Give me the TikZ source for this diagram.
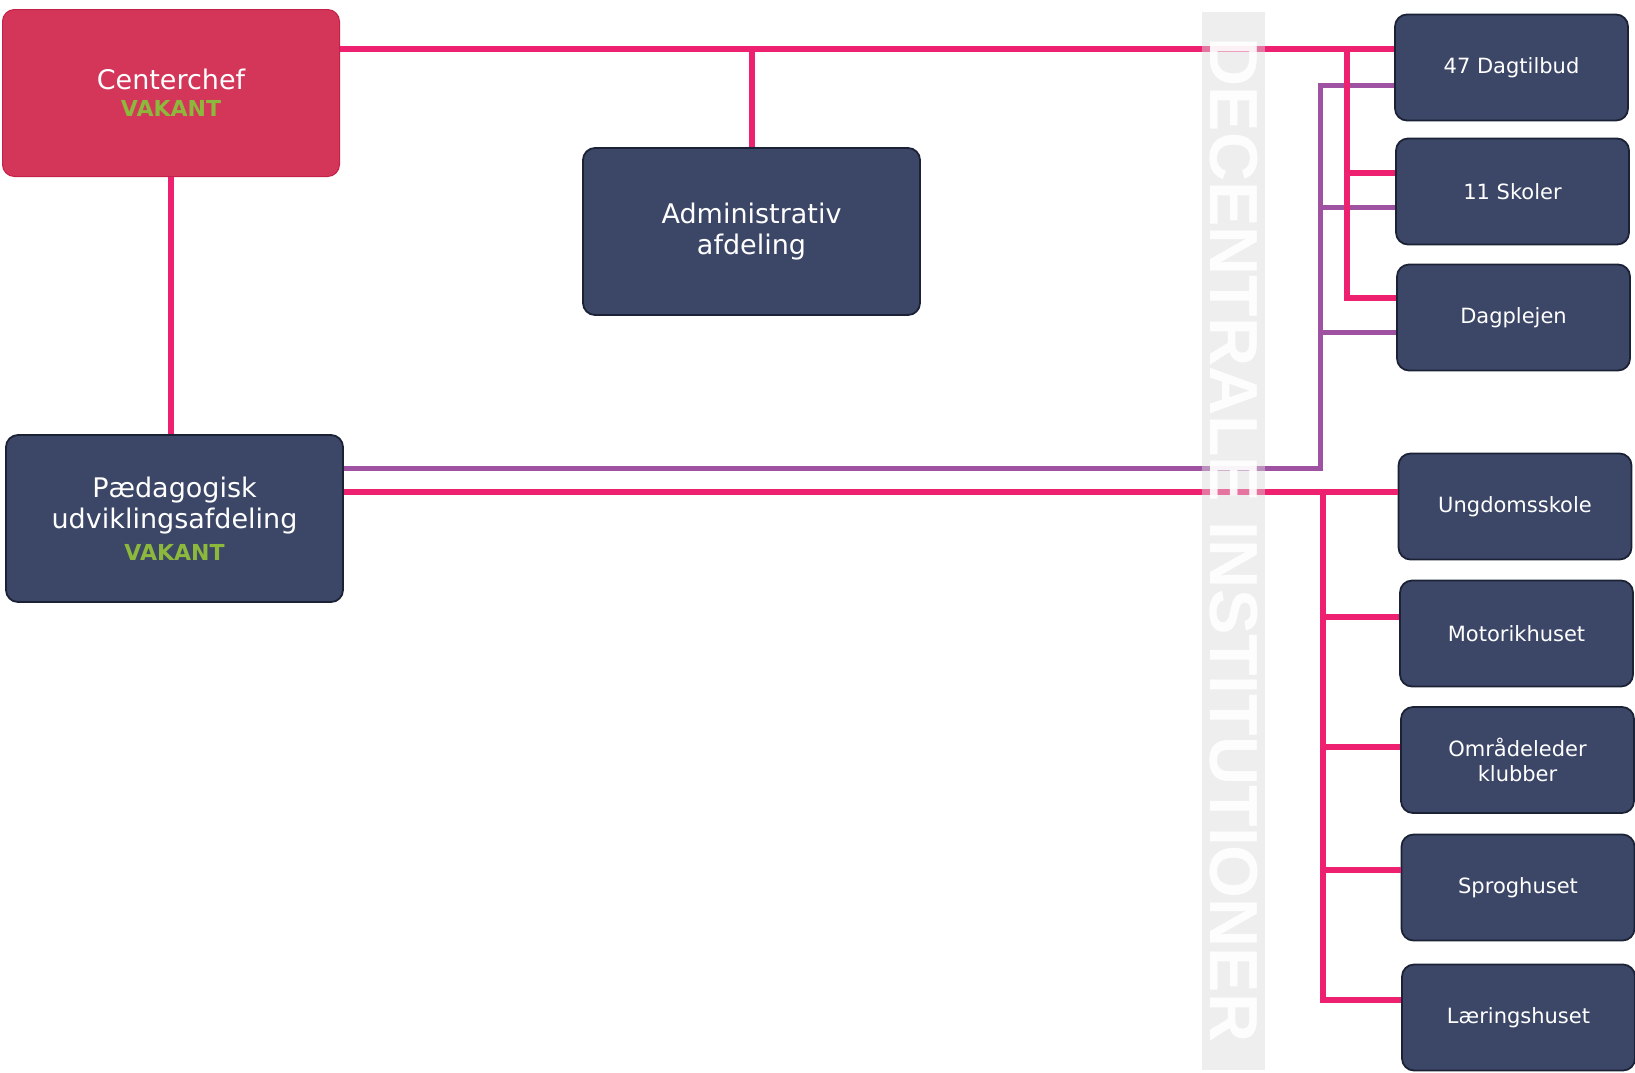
\documentclass[tikz,border=0pt]{standalone}
\usepackage{fontspec}
\setmainfont{DejaVu Sans}
\newfontfamily\wmfont{Liberation Sans}
\definecolor{navy}{RGB}{60,71,104}
\definecolor{navyedge}{RGB}{28,34,54}
\definecolor{chefred}{RGB}{212,54,90}
\definecolor{chefedge}{RGB}{196,34,72}
\definecolor{lpink}{RGB}{238,32,112}
\definecolor{lpurple}{RGB}{160,82,162}
\definecolor{vgreen}{RGB}{140,185,60}
\newcommand\vakant{{\color{vgreen}\fontsize{22}{26}\selectfont\bfseries VAKANT}}
\begin{document}
\begin{tikzpicture}[x=1pt,y=-1pt,
  box/.style={rounded corners=12pt, fill=navy, draw=navyedge, line width=1.8pt,
    text=white, align=center, inner sep=0pt},
  bigbox/.style={box, minimum width=337pt, minimum height=167pt,
    font=\fontsize{27}{31}\selectfont},
  smallbox/.style={box, minimum width=233pt, minimum height=106pt,
    font=\fontsize{21}{25}\selectfont},
  pinkline/.style={draw=lpink, line width=5.5pt},
  purpleline/.style={draw=lpurple, line width=5pt}]
\useasboundingbox (0,0) rectangle (1635,1072);
\fill[white] (0,0) rectangle (1635,1072);

% main boxes
\node[bigbox, fill=chefred, draw=chefedge, line width=1pt] (chef) at (171,93) {Centerchef\\[-4pt]\vakant};
\node[bigbox] (adm) at (751.5,231.5) {Administrativ\\afdeling};
\node[bigbox] (paed) at (174.5,518.5) {Pædagogisk\\udviklingsafdeling\\[1pt]\vakant};

% right boxes
\node[smallbox] (dag) at (1511.5,67.5) {47 Dagtilbud};
\node[smallbox] (sko) at (1512.5,191.5) {11 Skoler};
\node[smallbox] (pl)  at (1513.5,317.5) {Dagplejen};
\node[smallbox] (ung) at (1515,506.5) {Ungdomsskole};
\node[smallbox] (mot) at (1516.5,633.5) {Motorikhuset};
\node[smallbox] (omr) at (1517.5,760) {Områdeleder\\klubber};
\node[smallbox] (spr) at (1518,887.5) {Sproghuset};
\node[smallbox] (lae) at (1518.5,1017.5) {Læringshuset};

% junction coordinates
\coordinate (t)  at (752,49);
\coordinate (pv) at (1347,49);
\coordinate (p1) at (1347,173);
\coordinate (p2) at (1347,298);
\coordinate (uv) at (1320,468);
\coordinate (u0) at (1320,85);
\coordinate (u1) at (1320,207);
\coordinate (u2) at (1320,332);
\coordinate (bv) at (1323,492);
\coordinate (b1) at (1323,617);
\coordinate (b2) at (1323,747);
\coordinate (b3) at (1323,870);
\coordinate (b4) at (1323,1000);

% purple connectors
\draw[purpleline] (paed.east |- uv) -- (uv) -- (u0) -- (dag.west |- u0);
\draw[purpleline] (u1) -- (sko.west |- u1);
\draw[purpleline] (u2) -- (pl.west |- u2);

% pink connectors
\draw[pinkline] (chef.east |- t) -- (dag.west |- t);
\draw[pinkline] (t) -- (t |- adm.north);
\draw[pinkline] (chef.south) -- (chef.south |- paed.north);
\draw[pinkline] (pv) -- (p2) -- (pl.west |- p2);
\draw[pinkline] (p1) -- (sko.west |- p1);
\draw[pinkline] (paed.east |- bv) -- (ung.west |- bv);
\draw[pinkline] (bv) -- (b4) -- (lae.west |- b4);
\draw[pinkline] (b1) -- (mot.west |- b1);
\draw[pinkline] (b2) -- (omr.west |- b2);
\draw[pinkline] (b3) -- (spr.west |- b3);

% watermark band
\fill[black!14, opacity=0.45] (1202,12) rectangle (1265,1070);
\node[rotate=-90, text=white, opacity=0.9, inner sep=0pt,
  font=\wmfont\bfseries\fontsize{68}{68}\selectfont] (wm) at (1234,540) {DECENTRALE INSTITUTIONER};
\end{tikzpicture}
\end{document}
